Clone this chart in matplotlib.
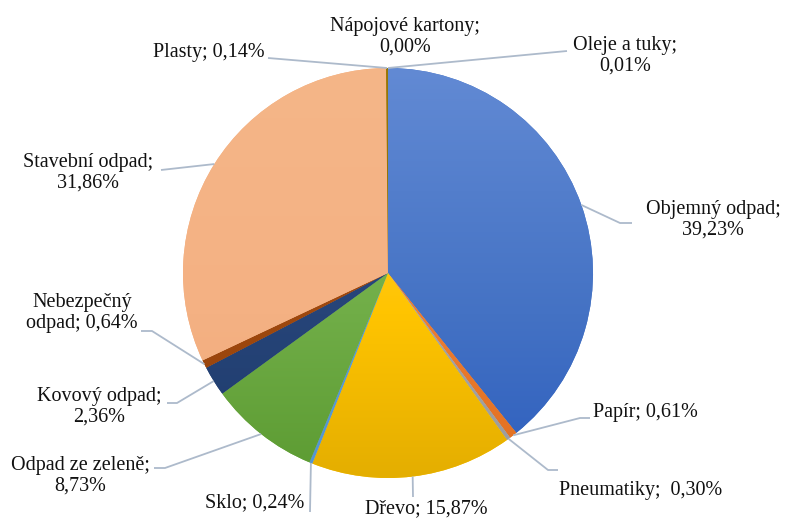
import numpy as np
import matplotlib
matplotlib.use("Agg")
import matplotlib.pyplot as plt
from matplotlib.colors import to_rgb

# ---- data (clockwise from 12 o'clock) ----
categories = ["Objemný odpad", "Papír", "Pneumatiky", "Dřevo", "Sklo",
              "Odpad ze zeleně", "Kovový odpad", "Nebezpečný odpad",
              "Stavební odpad", "Plasty", "Nápojové kartony", "Oleje a tuky"]
values = [39.23, 0.61, 0.30, 15.87, 0.24, 8.73, 2.36, 0.64, 31.86, 0.14, 0.00, 0.01]

# gradient colours (top, middle, bottom)
top_colors = ["#628AD4", "#F08538", "#ABABAB", "#FFD24E", "#5F9FD8", "#88C260",
              "#2B4E88", "#A44C12", "#F5B688", "#9E7805", "#2A6296", "#476D2E"]
mid_colors = ["#4472C4", "#ED7D31", "#A5A5A5", "#FFC400", "#5B9BD5", "#70AD47",
              "#264478", "#9E480E", "#F4B183", "#997300", "#255E91", "#43682B"]
bot_colors = ["#2E5FBE", "#E06F20", "#9C9C9C", "#E4AE00", "#5595D0", "#5C9B32",
              "#1E3B6C", "#94420B", "#F0AA7A", "#906C00", "#22588A", "#3E6228"]

W, H = 786, 518
CX, CY, R = 388, 273, 205


def Y(y):
    return H - y


def pct(v):
    return f"{v:.2f}".replace(".", ",") + "%"


plt.rcParams["font.family"] = ["Liberation Serif", "DejaVu Serif"]

fig = plt.figure(figsize=(W / 100, H / 100), dpi=100)
ax = fig.add_axes([0, 0, 1, 1])

wedges, _ = ax.pie(values, colors=mid_colors, startangle=90, counterclock=False,
                   center=(CX, Y(CY)), radius=R,
                   wedgeprops=dict(linewidth=0, antialiased=True))

N = 256
t = np.linspace(0, 1, N)
for w, c1, c2, c3 in zip(wedges, top_colors, mid_colors, bot_colors):
    a, b, c = (np.array(to_rgb(k)) for k in (c1, c2, c3))
    grad = np.empty((N, 1, 3))
    for ch in range(3):
        grad[:, 0, ch] = np.interp(t, [0, 0.6, 1], [a[ch], b[ch], c[ch]])
    im = ax.imshow(grad, extent=(CX - R, CX + R, Y(CY + R), Y(CY - R)),
                   origin="upper", aspect="auto", zorder=w.get_zorder() + 0.1,
                   interpolation="bilinear")
    im.set_clip_path(w)

# ---- labels (text centre in image px, leader path after wedge anchor) ----
label_text = {
    "Objemný odpad": "Objemný odpad;\n" + pct(values[0]),
    "Papír": "Papír; " + pct(values[1]),
    "Pneumatiky": "Pneumatiky;  " + pct(values[2]),
    "Dřevo": "Dřevo; " + pct(values[3]),
    "Sklo": "Sklo; " + pct(values[4]),
    "Odpad ze zeleně": "Odpad ze zeleně;\n" + pct(values[5]),
    "Kovový odpad": "Kovový odpad;\n" + pct(values[6]),
    "Nebezpečný odpad": "Nebezpečný\nodpad; " + pct(values[7]),
    "Stavební odpad": "Stavební odpad;\n" + pct(values[8]),
    "Plasty": "Plasty; " + pct(values[9]),
    "Nápojové kartony": "Nápojové kartony;\n" + pct(values[10]),
    "Oleje a tuky": "Oleje a tuky;\n" + pct(values[11]),
}
label_pos = {
    "Objemný odpad": (713, 220),
    "Papír": (645, 413),
    "Pneumatiky": (641, 490),
    "Dřevo": (426, 509),
    "Sklo": (255, 503),
    "Odpad ze zeleně": (80, 476),
    "Kovový odpad": (99, 407),
    "Nebezpečný odpad": (82, 313),
    "Stavební odpad": (88, 173),
    "Plasty": (209, 52),
    "Nápojové kartony": (405, 37),
    "Oleje a tuky": (625, 56),
}
leader = {
    "Objemný odpad": [(620, 223), (632, 223)],
    "Papír": [(580, 418), (590, 418)],
    "Pneumatiky": [(548, 470), (558, 470)],
    "Dřevo": [(413, 497)],
    "Sklo": [(310, 512)],
    "Odpad ze zeleně": [(165, 468), (154, 468)],
    "Kovový odpad": [(177, 403), (167, 403)],
    "Nebezpečný odpad": [(152, 331), (141, 331)],
    "Stavební odpad": [(161, 170)],
    "Plasty": [(268, 58)],
    "Nápojové kartony": [],
    "Oleje a tuky": [(567, 51)],
}

line_col = "#ADBACB"
cum = 0.0
tot = sum(values)
for name, v in zip(categories, values):
    mid = (cum + v / 2) / tot * 2 * np.pi
    cum += v
    ax0 = CX + R * np.sin(mid)
    ay0 = CY - R * np.cos(mid)
    pts = [(ax0, ay0)] + leader[name]
    if len(pts) > 1:
        ax.plot([p[0] for p in pts], [Y(p[1]) for p in pts], color=line_col,
                lw=1.3, zorder=5, solid_capstyle="butt")
    tx, ty = label_pos[name]
    ax.text(tx, Y(ty), label_text[name], ha="center", va="center",
            fontsize=14.5, linespacing=1.1, color="#111111", zorder=6)

ax.set_xlim(0, W)
ax.set_ylim(0, H)
ax.set_aspect("equal")
ax.axis("off")
fig.savefig("out.png", dpi=100)
